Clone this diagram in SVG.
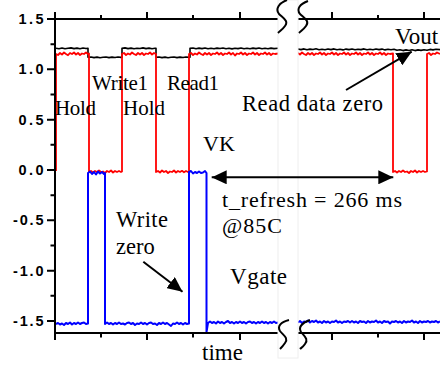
<svg xmlns="http://www.w3.org/2000/svg" width="440" height="366" viewBox="0 0 440 366">
<defs>
<style>
.ax{stroke:#000;stroke-width:2;fill:none}
.tk{stroke:#000;stroke-width:2}
.tl{font-family:"Liberation Sans",Arial,sans-serif;font-weight:bold;font-size:14.5px;fill:#000;text-anchor:end}
.lb{font-family:"Liberation Serif","Times New Roman",serif;fill:#000}
.blk{stroke:#000;stroke-width:1.6;fill:none;stroke-linejoin:round}
.red{stroke:#ff0000;stroke-width:1.8;fill:none;stroke-linejoin:round}
.blu{stroke:#0000ff;stroke-width:2;fill:none;stroke-linejoin:round}
.brk{stroke:#000;stroke-width:2;fill:none}
.arr{stroke:#000;stroke-width:2;fill:none}
</style>
<marker id="ah" viewBox="0 0 15 14" refX="15" refY="7" markerWidth="15" markerHeight="14" markerUnits="userSpaceOnUse" orient="auto-start-reverse">
<path d="M0,0 L15,7 L0,14 z" fill="#000"/>
</marker>
</defs>
<rect width="440" height="366" fill="#fff"/>

<g id="traces">
<path class="blk" d="M56,48.3 L59,48.7 62,48 65,48.8 68,48.2 71,47.9 74,48.6 77,48.1 80,48.7 83,48 86,48.5 88,48.3 V57.3 L91,57 94,57.6 97,57.1 100,57.8 103,57.3 106,57 109,57.6 112,57.1 115,57.5 118,57 121,57.4 122,57.3 V48.3 L125,47.9 128,48.6 131,48.1 134,48.7 137,48.2 140,48.5 143,47.9 146,48.6 149,48.1 152,48.7 155,48.2 156,48.3 V57.3 L159,57 162,57.6 165,57.1 168,57.7 171,57.2 174,57 177,57.6 180,57.1 183,57.5 186,57 189,57.4 190,57.3 V48.3 L193,48 196,48.7 199,48.1 202,48.6 205,48 208,48.7 211,48.2 214,48.8 217,48.1 220,48.5 223,48 226,48.7 229,48.2 232,48.9 235,48.3 238,48.6 241,48 244,48.7 247,48.2 250,48.8 253,48.1 256,48.6 259,48 262,48.7 265,48.3 268,48.8 271,48.1 274,48.6 278,48.3 M298,49 L301,49.6 304,48.9 307,49.8 310,49.1 313,49.5 316,48.8 319,49.7 322,49.2 325,49.8 328,49 331,49.6 334,48.9 337,49.7 340,49.2 343,49.9 346,49.1 349,49.6 352,49 355,49.8 358,49.2 361,49.6 364,48.9 367,49.7 370,49.3 373,49.8 376,49 379,49.6 382,49.1 385,49.9 388,49.3 391,49.7 394,49.2 397,50.3 400,49.8 403,50.6 406,49.9 409,50.5 412,49.8 415,50.6 418,49.9 421,50.4 424,49.7 427,50.2 430,49.4 433,49.9 436,49.2 440,49.6"/>
<path class="red" d="M56,171 V54 L58,55 60,53 62,54.5 64,52.5 66,54 68,55.2 70,53 72,54 74,52.5 76,54.5 78,53 80,55 82,53.5 84,54 86,52.5 88,54 89,53.5 V172 L91,171 93,172.5 95,171 97,172 99,170.5 101,172 103,171.5 105,173 107,171 109,172 111,170.5 113,172.5 115,171 117,172 119,171 121,172 122,171.5 V54 L124,53 126,55 128,53.5 130,54.5 132,52.5 134,54 136,55 138,53 140,54.5 142,53 144,55 146,53.5 148,54 150,52.5 152,54.5 154,53 156,54 V172 L158,171 160,172.5 162,170.5 164,172 166,171 168,173 170,171.5 172,172 174,170.5 176,172.5 178,171 180,172 182,170.8 184,172.3 186,171 188,172 189,171.5 V54 L191,53 193,55 195,53.5 197,54.5 199,52.5 201,54 203,55 205,53 207,54.5 209,53 211,55 213,53.5 215,54 217,52.5 219,54.5 221,53 223,55 225,53.5 227,54 229,52.5 231,54.5 233,53 235,55.5 237,53.5 239,54 241,52.5 243,54.5 245,53 247,55 249,53.5 251,54 253,52.5 255,54.5 257,53 259,55 261,53.5 263,54 265,52.5 267,54.5 269,53 271,55 273,53.5 275,54 278,53.5 M298,53 L300,54.5 302,52.5 304,54 306,55 308,53 310,54.5 312,53 314,55 316,53.5 318,54 320,52.5 322,54.5 324,53 326,55 328,53.5 330,54 332,52.5 334,54.5 336,53 338,55 340,53.5 342,54 344,52.5 346,54.5 348,53 350,55 352,53.5 354,54 356,52.5 358,54.5 360,53 362,55 364,53.5 366,54 368,52.5 370,54.5 372,53 374,55 376,53.5 378,54 380,52.5 382,54.5 384,53 386,55 388,53.5 390,54 393,53.5 V172 L395,171 397,172.5 399,171 401,172 403,170.5 405,172 407,171.5 409,173 411,171 413,172 415,170.5 417,172.5 419,171 421,172 423,171 425,172 427,171.5 V54 L429,53 431,55 433,53.5 435,54 437,52.5 440,54"/>
<path class="blu" d="M56,324 L58,323 60,324.5 62,323.5 64,325 66,323 68,324 70,322.5 72,324.5 74,323 76,324 78,322.5 80,324 82,323 84,322.5 86,324 88,323.5 V173 L90,171.5 92,174 94,172 96,174.5 98,171.5 100,173.5 102,172 104,174 105,173 V324 L107,322.5 109,324 111,323 113,324.5 115,323 117,324 119,322.5 121,324 123,323.5 125,324.5 127,323 129,322.5 131,324 133,323 135,325 137,323.5 139,324 141,322.5 143,324 145,323 147,324.5 149,323 151,322.5 153,324 155,323.5 157,325 159,323 161,324 163,322.5 165,324 167,323 169,324.5 171,326 173,323.5 175,324 177,322.5 179,324 181,323 183,324.5 185,323 187,324 189,323.5 V172 L191,171 193,173.5 195,172 197,173 199,171.5 201,173 203,172.5 205,171 206.5,173 V332 L208,323 210,321.5 212,323 214,322 216,323.5 218,321.5 220,323 222,322 224,323.5 226,322 228,321 230,323 232,322 234,323.5 236,322 238,323 240,321.5 242,323 244,322 246,323.5 248,322 250,321.5 252,323 254,322 256,323.5 258,322 260,323 262,321.5 264,323 266,322 268,323.5 270,322 272,323 274,321.5 276,323 278,322.5 M298,322.5 L300,321 302,323 304,321.5 306,322 308,320.5 310,322.5 312,321 314,322 316,320.5 318,322.5 320,321.5 322,323 324,321 326,322.5 328,321.5 330,323 332,321.5 334,322 336,320.5 338,322.5 340,321.5 342,323 344,321.5 346,322 348,321 350,322.5 352,321 354,322.5 356,321.5 358,323 360,321 362,322 364,321.5 366,323 368,321 370,322.5 372,321.5 374,322 376,320.5 378,322.5 380,321.5 382,323 384,321 386,322 388,321.5 390,323.5 392,321.5 394,322 396,321 398,322.5 400,321.5 402,323 404,321 406,322.5 408,321.5 410,322 412,320.5 414,322.5 416,321.5 418,323 420,321 422,322.5 424,321.5 426,322 428,321 430,322.5 432,321.5 434,322 436,321 438,322.5 440,321.5"/>
</g>

<g id="axes">
<line class="ax" x1="55" y1="19" x2="440" y2="19"/>
<line class="ax" x1="55" y1="333" x2="440" y2="333"/>
<line class="ax" x1="55" y1="12" x2="55" y2="340"/>
<path class="tk" d="M47,19H55 M47,69.3H55 M47,119.7H55 M47,170H55 M47,220.3H55 M47,270.7H55 M47,321H55 M50.5,44.2H55 M50.5,94.5H55 M50.5,144.8H55 M50.5,195.2H55 M50.5,245.5H55 M50.5,295.8H55"/>
<path class="tk" d="M101,19V15 M147,19V12 M193,19V15 M240,19V12 M332,19V12 M378,19V15 M424,19V12"/>
<path class="tk" d="M101,333V337.5 M147,333V340 M193,333V337.5 M240,333V340 M332,333V340 M378,333V337.5 M424,333V340"/>
<text class="tl" x="43.5" y="24" textLength="25">1.5</text>
<text class="tl" x="43.5" y="74.3" textLength="25">1.0</text>
<text class="tl" x="43.5" y="124.7" textLength="25">0.5</text>
<text class="tl" x="43.5" y="175" textLength="25">0.0</text>
<text class="tl" x="43.5" y="225.3" textLength="30.5">-0.5</text>
<text class="tl" x="43.5" y="275.7" textLength="30.5">-1.0</text>
<text class="tl" x="43.5" y="326" textLength="30.5">-1.5</text>
</g>

<g id="break">
<rect x="278" y="0" width="20" height="358" fill="#fff" stroke="#eeeeee" stroke-width="1"/>
<path class="brk" d="M287,0 C279,3 275,9 279,14 C283,18 289,21 285,26 C283,29 280,31 278,33"/>
<path class="brk" d="M308,1 C300,4 296,9 300,14 C304,18 310,21 306,26 C304,29 301,31 299,33"/>
<path class="brk" d="M289,320 C281,322 277,326 280,331 C283,335 289,338 285,343 C283,346 281,348 280,349"/>
<path class="brk" d="M310,320 C302,323 298,327 301,332 C304,336 309,339 305,344 C303,347 301,348 300,349"/>
</g>

<g id="connectors">
<line class="arr" x1="346" y1="90" x2="411.7" y2="51.7" marker-end="url(#ah)"/>
<line class="arr" x1="143.3" y1="261.7" x2="182.5" y2="291.7" marker-end="url(#ah)"/>
<line class="arr" x1="211.7" y1="177.3" x2="393.3" y2="177.3" marker-start="url(#ah)" marker-end="url(#ah)"/>
</g>

<g id="labels">
<text class="lb" x="55" y="115" font-size="21" textLength="41">Hold</text>
<text class="lb" x="123" y="115" font-size="21" textLength="42">Hold</text>
<text class="lb" x="92" y="90" font-size="21" textLength="56">Write1</text>
<text class="lb" x="167" y="90" font-size="21" textLength="52">Read1</text>
<text class="lb" x="203" y="151" font-size="22">VK</text>
<text class="lb" x="395" y="44" font-size="23">Vout</text>
<text class="lb" x="242" y="111" font-size="22.5" textLength="141">Read data zero</text>
<text class="lb" x="222" y="207" font-size="22" textLength="180">t_refresh = 266 ms</text>
<text class="lb" x="222" y="233" font-size="22" textLength="60">@85C</text>
<text class="lb" x="116" y="227" font-size="22.5" textLength="52">Write</text>
<text class="lb" x="116" y="254" font-size="22.5">zero</text>
<text class="lb" x="230" y="284" font-size="23" textLength="57">Vgate</text>
<text class="lb" x="202" y="360" font-size="23">time</text>
</g>
</svg>
